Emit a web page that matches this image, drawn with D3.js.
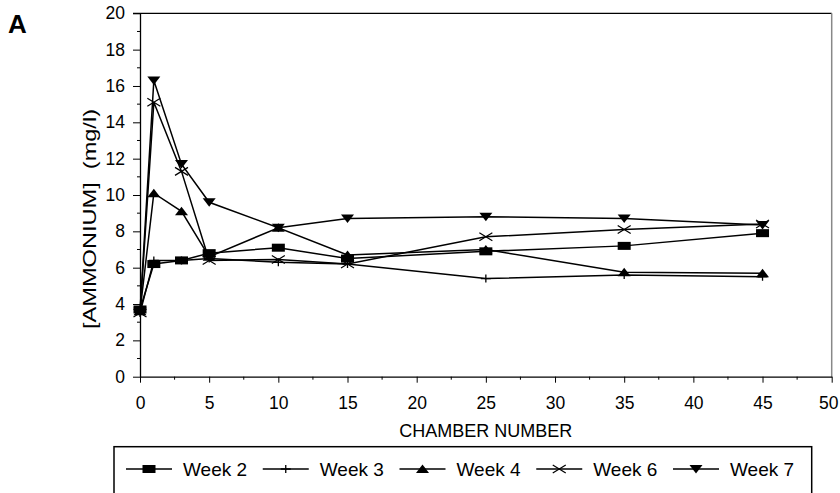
<!DOCTYPE html>
<html>
<head>
<meta charset="utf-8">
<script src="https://cdn.jsdelivr.net/npm/d3@7"></script>
<style>
  body { margin: 0; background: #fff; }
  svg text { font-family: "Liberation Sans", Arial, sans-serif; fill: #000; }
</style>
</head>
<body>
<svg id="chart" width="840" height="493"></svg>
<script>
// chamber numbers sampled
const chambers = [0, 1, 3, 5, 10, 15, 25, 35, 45];

// ammonium (mg/l) per week
const week2 = [3.7, 6.2, 6.4, 6.8, 7.1, 6.5, 6.9, 7.2, 7.9];
const week3 = [3.5, 6.4, 6.4, 6.5, 6.3, 6.2, 5.4, 5.6, 5.5];
const week4 = [3.6, 10.1, 9.1, 6.6, 8.2, 6.7, 7.0, 5.75, 5.7];
const week6 = [3.5, 15.1, 11.3, 6.4, 6.45, 6.2, 7.7, 8.1, 8.4];
const week7 = [3.6, 16.3, 11.7, 9.6, 8.2, 8.7, 8.8, 8.7, 8.35];

const seriesNames = ["Week 2", "Week 3", "Week 4", "Week 6", "Week 7"];
const markerTypes = ["square", "plus", "up", "cross", "down"];

const xTicks = [0, 5, 10, 15, 20, 25, 30, 35, 40, 45, 50];
const yTicks = [0, 2, 4, 6, 8, 10, 12, 14, 16, 18, 20];

const series = [week2, week3, week4, week6, week7].map((vals, i) => ({
  name: seriesNames[i],
  marker: markerTypes[i],
  points: vals.map((v, j) => ({x: chambers[j], y: v}))
}));

const svg = d3.select("#chart");

const x = d3.scaleLinear().domain([0, 50]).range([140, 831.7]);
const y = d3.scaleLinear().domain([0, 20]).range([376.7, 13.3]);

// panel letter
svg.append("text")
  .attr("x", 8).attr("y", 33)
  .style("font-size", "26px").style("font-weight", "bold")
  .text("A");

// top + right frame
svg.append("line")
  .attr("x1", x(0) - 7).attr("x2", x(50)).attr("y1", y(20)).attr("y2", y(20))
  .attr("stroke", "#000").attr("stroke-width", 1.3);
svg.append("line")
  .attr("x1", x(50)).attr("x2", x(50)).attr("y1", y(20)).attr("y2", y(0))
  .attr("stroke", "#888").attr("stroke-width", 1.5);

// minor ticks
const xMinor = d3.range(2.5, 50, 5);
svg.append("g").selectAll("line").data(xMinor).enter().append("line")
  .attr("x1", d => x(d)).attr("x2", d => x(d))
  .attr("y1", y(0)).attr("y2", y(0) + 3)
  .attr("stroke", "#000");
const yMinor = d3.range(1, 20, 2);
svg.append("g").selectAll("line").data(yMinor).enter().append("line")
  .attr("x1", x(0) - 3).attr("x2", x(0))
  .attr("y1", d => y(d)).attr("y2", d => y(d))
  .attr("stroke", "#000");

// axes
const xAxis = svg.append("g")
  .attr("transform", `translate(0,${y(0)})`)
  .call(d3.axisBottom(x).tickValues(xTicks).tickSize(6).tickSizeOuter(0).tickPadding(14));
const yAxis = svg.append("g")
  .attr("transform", `translate(${x(0)},0)`)
  .call(d3.axisLeft(y).tickValues(yTicks).tickSize(7).tickSizeOuter(0).tickPadding(8));

[xAxis, yAxis].forEach(g => {
  g.select(".domain").attr("stroke", "#000").attr("stroke-width", 1.3);
  g.selectAll(".tick line").attr("stroke", "#000");
  g.selectAll("text")
    .style("font-family", "'Liberation Sans', Arial, sans-serif")
    .style("font-size", "17.5px").attr("fill", "#000");
});
// last label sits on the right edge
xAxis.selectAll(".tick text").filter(d => d === 50).attr("dx", "-0.2em");

// axis titles
svg.append("text")
  .attr("x", (x(0) + x(50)) / 2).attr("y", 436.5)
  .attr("text-anchor", "middle")
  .style("font-size", "18px")
  .text("CHAMBER NUMBER");

svg.append("text")
  .attr("transform", "translate(96,219) rotate(-90)")
  .attr("text-anchor", "middle")
  .style("font-size", "19px")
  .attr("xml:space", "preserve")
  .attr("textLength", 220)
  .attr("lengthAdjust", "spacingAndGlyphs")
  .text("[AMMONIUM]  (mg/l)");

// marker drawing
function drawMarker(g, type) {
  if (type === "square") {
    g.append("rect").attr("x", -6.5).attr("y", -4).attr("width", 13).attr("height", 8).attr("fill", "#000");
  } else if (type === "up") {
    g.append("path").attr("d", "M-6.5,4L6.5,4L0,-4.5Z").attr("fill", "#000");
  } else if (type === "down") {
    g.append("path").attr("d", "M-6.5,-4L6.5,-4L0,4.5Z").attr("fill", "#000");
  } else if (type === "cross") {
    g.append("path").attr("d", "M-6.5,-4L6.5,4M-6.5,4L6.5,-4")
      .attr("stroke", "#000").attr("stroke-width", 1.2).attr("fill", "none");
  } else if (type === "plus") {
    g.append("path").attr("d", "M-5,0L5,0M0,-4L0,4")
      .attr("stroke", "#000").attr("stroke-width", 1.3).attr("fill", "none");
  }
}

const line = d3.line().x(d => x(d.x)).y(d => y(d.y));

series.forEach(s => {
  svg.append("path")
    .datum(s.points)
    .attr("d", line)
    .attr("fill", "none")
    .attr("stroke", "#000")
    .attr("stroke-width", 1.5);
});
series.forEach(s => {
  s.points.forEach(p => {
    const g = svg.append("g").attr("transform", `translate(${x(p.x)},${y(p.y)})`);
    drawMarker(g, s.marker);
  });
});

// legend
svg.append("rect")
  .attr("x", 114).attr("y", 446.7).attr("width", 697.7).attr("height", 60)
  .attr("fill", "none").attr("stroke", "#000").attr("stroke-width", 1.5);

const legend = svg.append("g").selectAll("g").data(series).enter().append("g")
  .attr("transform", (d, i) => `translate(${126 + i * 136.75},469)`);
legend.append("line")
  .attr("x1", 0).attr("x2", 46).attr("y1", 0).attr("y2", 0)
  .attr("stroke", "#000").attr("stroke-width", 1.5);
legend.each(function(d) {
  const g = d3.select(this).append("g").attr("transform", "translate(23,0)");
  drawMarker(g, d.marker);
});
legend.append("text")
  .attr("x", 57).attr("y", 0).attr("dy", "0.35em")
  .style("font-size", "19px")
  .text(d => d.name);
</script>
</body>
</html>
